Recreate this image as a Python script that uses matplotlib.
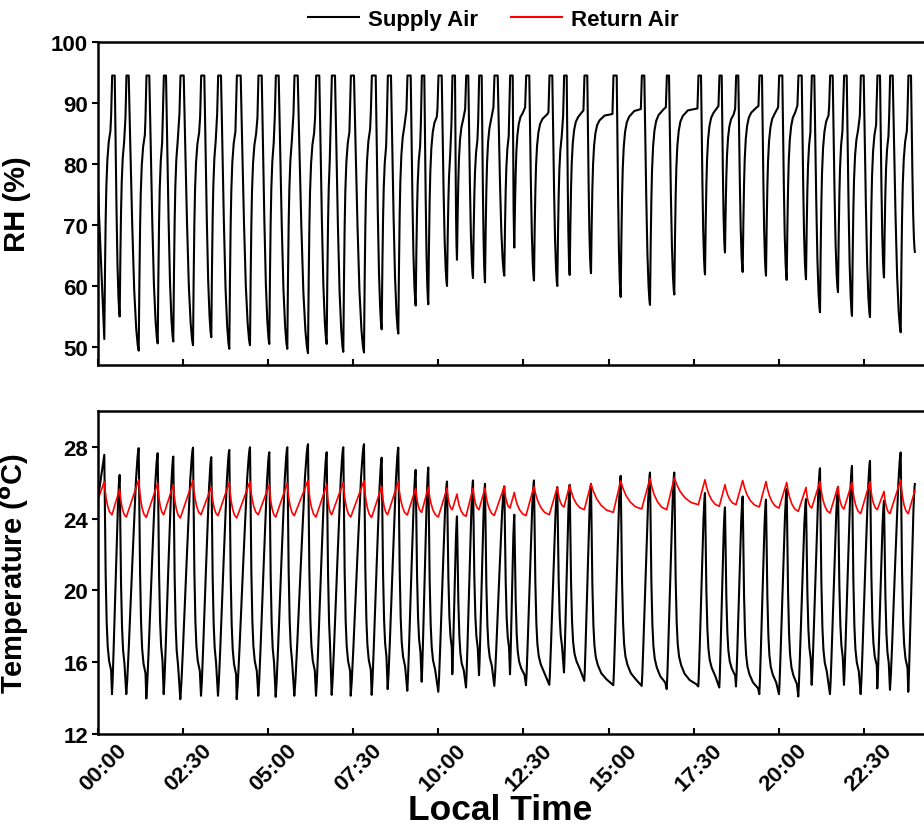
import matplotlib
matplotlib.use("Agg")
import matplotlib.pyplot as plt
import matplotlib.transforms as mtransforms
from matplotlib.lines import Line2D

# ---------------- data (hours of local time) ----------------
# time of each RH minimum / supply-air temperature maximum
t_trough = [0.188, 0.640, 1.199, 1.757, 2.215, 2.794, 3.331, 3.860, 4.468, 5.035,
            5.564, 6.172, 6.721, 7.209, 7.817, 8.337, 8.825, 9.336, 9.706, 10.256,
            10.549, 11.019, 11.372, 11.939, 12.233, 12.811, 13.496, 13.860, 14.486, 15.358,
            16.219, 16.933, 17.835, 18.422, 18.942, 19.627, 20.235, 20.802, 21.213, 21.742,
            22.153, 22.682, 23.094, 23.584]
# time of RH step up to saturation / supply-air temperature minimum
t_step = [0.414, 0.834, 1.422, 1.933, 2.421, 3.029, 3.528, 4.078, 4.712, 5.223,
          5.770, 6.407, 6.868, 7.427, 8.043, 8.513, 9.089, 9.512, 10.000, 10.411,
          10.814, 11.196, 11.645, 12.106, 12.576, 13.261, 13.692, 14.289, 15.141, 15.975,
          16.710, 17.638, 18.255, 18.745, 19.430, 20.008, 20.575, 20.969, 21.506, 21.917,
          22.408, 22.896, 23.269, 23.806]
# time the RH starts to fall from saturation
t_drop = [0.494, 0.905, 1.510, 2.001, 2.521, 3.126, 3.616, 4.195, 4.812, 5.311,
          5.870, 6.504, 6.965, 7.523, 8.161, 8.610, 9.189, 9.589, 10.100, 10.491,
          10.881, 11.275, 11.745, 12.186, 12.673, 13.349, 13.772, 14.377, 15.241, 16.052,
          16.778, 17.718, 18.326, 18.813, 19.509, 20.106, 20.676, 21.046, 21.586, 21.998,
          22.497, 22.976, 23.349, 23.887]
t_last = 24.0

rh_min = [51.3, 55.0, 49.4, 50.6, 50.9, 50.3, 51.6, 49.7, 50.3, 50.5,
          49.7, 49.0, 50.5, 49.2, 49.1, 52.9, 52.2, 56.8, 57.0, 60.0,
          64.3, 61.3, 60.6, 61.7, 66.3, 60.9, 60.0, 61.8, 62.1, 58.2,
          56.9, 58.6, 61.9, 65.5, 62.3, 61.7, 61.0, 61.1, 55.7, 59.0,
          55.1, 54.9, 61.4, 52.4]
rh_knee = [88.0, 87.5, 87.4, 88.0, 88.3, 87.8, 88.2, 88.0, 87.6, 88.0,
           88.2, 87.8, 88.0, 88.0, 88.5, 87.0, 88.8, 86.5, 89.0, 86.5,
           89.0, 87.0, 89.3, 87.7, 89.3, 88.5, 87.9, 88.8, 88.2, 89.0,
           89.3, 89.1, 89.5, 89.0, 89.5, 89.3, 89.6, 88.5, 89.3, 89.0,
           87.9, 88.8, 87.7, 87.9]
rh_top = 94.5
rh_first, rh_final = 76.0, 65.6

sup_max = [27.56, 26.44, 27.93, 27.65, 27.46, 27.96, 27.43, 27.83, 27.98, 27.70,
           27.98, 28.15, 27.70, 27.98, 28.15, 27.40, 27.96, 26.72, 26.85, 26.07,
           24.13, 26.13, 25.94, 25.80, 24.22, 26.13, 25.76, 25.89, 25.94, 26.39,
           26.57, 26.57, 25.43, 24.63, 25.24, 25.06, 25.65, 25.09, 26.81, 25.76,
           26.94, 27.22, 25.00, 27.69]
sup_min = [14.22, 14.22, 13.98, 14.22, 13.94, 14.13, 14.13, 13.94, 14.13, 14.07,
           14.13, 14.13, 14.18, 14.13, 14.18, 14.50, 14.41, 14.91, 14.35, 15.33,
           14.59, 15.28, 14.68, 15.33, 14.72, 14.74, 15.43, 14.96, 14.72, 14.68,
           14.50, 14.65, 14.59, 14.65, 14.22, 14.22, 14.09, 14.74, 14.22, 14.74,
           14.22, 14.54, 14.46, 14.35]
sup_first, sup_final = 25.1, 25.93

ret_max = [26.07, 25.65, 26.17, 25.98, 25.89, 26.13, 25.76, 26.02, 26.07, 25.89,
           25.98, 26.13, 25.89, 26.02, 26.11, 25.80, 26.07, 25.70, 25.76, 25.70,
           25.37, 25.70, 25.70, 25.80, 25.46, 25.80, 25.76, 25.87, 25.94, 26.11,
           26.24, 26.28, 26.17, 25.89, 26.13, 26.07, 26.02, 25.74, 26.07, 25.80,
           26.02, 26.07, 25.52, 26.17]
ret_min = [24.22, 24.09, 24.07, 24.22, 24.04, 24.22, 24.17, 24.04, 24.22, 24.09,
           24.17, 24.09, 24.22, 24.09, 24.07, 24.22, 24.20, 24.35, 24.09, 24.50,
           24.13, 24.50, 24.18, 24.59, 24.17, 24.22, 24.65, 24.50, 24.35, 24.54,
           24.50, 24.78, 24.69, 24.78, 24.65, 24.59, 24.41, 24.59, 24.31, 24.54,
           24.28, 24.50, 24.28, 24.28]
ret_first, ret_final = 25.06, 25.57

tick_hours = [0, 2.5, 5, 7.5, 10, 12.5, 15, 17.5, 20, 22.5]
tick_labels = ["00:00", "02:30", "05:00", "07:30", "10:00",
               "12:30", "15:00", "17:30", "20:00", "22:30"]

# shape of the recorded traces between the key points (fractions of the swing)
RH_RISE_DT = [0.02, 0.04, 0.06, 0.09, 0.13, 0.18, 0.25, 0.40]
RH_RISE_F = [0.30, 0.53, 0.68, 0.80, 0.88, 0.93, 0.96, 0.99]
RH_DROP_U = [0.15, 0.35, 0.55, 0.75, 0.90]
RH_DROP_F = [0.24, 0.54, 0.78, 0.92, 0.98]
SUP_FALL_DT = [0.02, 0.04, 0.07, 0.10, 0.14, 0.20, 0.30, 0.45, 0.65]
SUP_FALL_F = [0.25, 0.50, 0.70, 0.80, 0.86, 0.90, 0.94, 0.97, 0.99]
SUP_RISE_U = [0.08, 0.20, 0.50, 0.78, 0.90, 0.96]
SUP_RISE_F = [0.06, 0.19, 0.55, 0.87, 0.96, 0.99]
RET_FALL_U = [0.10, 0.25, 0.45, 0.70]
RET_FALL_F = [0.25, 0.52, 0.75, 0.92]

n = len(t_trough)


def build_rh():
    xs, ys = [0.0], [rh_first]
    for i in range(n):
        a, s, b = t_trough[i], t_step[i], t_drop[i]
        m, k = rh_min[i], rh_knee[i]
        xs.append(a); ys.append(m)
        for dt, f in zip(RH_RISE_DT, RH_RISE_F):
            if a + dt < s - 0.03:
                xs.append(a + dt); ys.append(m + f * (k - m))
        xs += [s - 0.025, s + 0.005, b]
        ys += [k, rh_top, rh_top]
        nt = t_trough[i + 1] if i + 1 < n else t_last
        nv = rh_min[i + 1] if i + 1 < n else rh_final
        for u, f in zip(RH_DROP_U, RH_DROP_F):
            xs.append(b + u * (nt - b)); ys.append(rh_top + f * (nv - rh_top))
    xs.append(t_last); ys.append(rh_final)
    return xs, ys


def build_sup():
    xs, ys = [0.0], [sup_first]
    for i in range(n):
        a, s = t_trough[i], t_step[i]
        p, q = sup_max[i], sup_min[i]
        xs.append(a); ys.append(p)
        for dt, f in zip(SUP_FALL_DT, SUP_FALL_F):
            if a + dt < s - 0.01:
                xs.append(a + dt); ys.append(p + f * (q - p))
        xs.append(s); ys.append(q)
        nt = t_trough[i + 1] if i + 1 < n else t_last
        nv = sup_max[i + 1] if i + 1 < n else sup_final
        for u, f in zip(SUP_RISE_U, SUP_RISE_F):
            xs.append(s + u * (nt - s)); ys.append(q + f * (nv - q))
    xs.append(t_last); ys.append(sup_final)
    return xs, ys


def build_ret():
    xs, ys = [0.0], [ret_first]
    for i in range(n):
        a, s = t_trough[i], t_step[i]
        p, q = ret_max[i], ret_min[i]
        xs.append(a); ys.append(p)
        for u, f in zip(RET_FALL_U, RET_FALL_F):
            xs.append(a + u * (s - a)); ys.append(p + f * (q - p))
        xs.append(s); ys.append(q)
    xs.append(t_last); ys.append(ret_final)
    return xs, ys


plt.rcParams["font.family"] = ["Liberation Sans", "DejaVu Sans"]
plt.rcParams["font.weight"] = "bold"

W, H = 924, 829
fig = plt.figure(figsize=(W / 100, H / 100), dpi=100)

x0 = 97.9
px_per_h = 34.04
right_px = 926
xmax = (right_px - x0) / px_per_h


def axes_box(top_px, bot_px):
    return [x0 / W, 1 - bot_px / H, (right_px - x0) / W, (bot_px - top_px) / H]


ax1 = fig.add_axes(axes_box(43, 366))
ax2 = fig.add_axes(axes_box(412, 735))

rx, ry = build_rh()
ax1.plot(rx, ry, color="black", lw=1.5, solid_joinstyle="round")
sx, sy = build_sup()
ax2.plot(sx, sy, color="black", lw=1.5, solid_joinstyle="round")
qx, qy = build_ret()
ax2.plot(qx, qy, color="red", lw=1.2, solid_joinstyle="round")

ax1.set_ylim(47.05, 100)
ax1.set_yticks([50, 60, 70, 80, 90, 100])
ax2.set_ylim(12, 30)
ax2.set_yticks([12, 16, 20, 24, 28])

for ax in (ax1, ax2):
    ax.set_xlim(0, xmax)
    ax.set_xticks(tick_hours)
    for sp in ax.spines.values():
        sp.set_linewidth(1.8)
    ax.tick_params(axis="x", direction="in", length=4, width=1.5)
    ax.tick_params(axis="y", direction="out", length=4, width=1.5, labelsize=16, pad=3)
    for lab in ax.get_yticklabels():
        lab.set_fontweight("bold")

ax1.set_xticklabels([])
ax2.set_xticklabels(tick_labels, rotation=45, ha="center", va="top",
                    fontsize=16, fontweight="bold")
ax2.tick_params(axis="x", pad=4)
shift = mtransforms.ScaledTranslation(5 / 100, 0, fig.dpi_scale_trans)
for lab in ax2.get_xticklabels():
    lab.set_transform(lab.get_transform() + shift)

ax1.set_ylabel("RH (%)", fontsize=21, fontweight="bold")
ax1.yaxis.set_label_coords(-0.081, 0.5)
ax2.set_ylabel("Temperature ($\\mathbf{^{o}}$C)", fontsize=21, fontweight="bold")
ax2.yaxis.set_label_coords(-0.081, 0.5)
ax2.set_xlabel("Local Time", fontsize=25.5, fontweight="bold")
ax2.xaxis.set_label_coords(0.486, -0.183)

handles = [Line2D([], [], color="black", lw=1.5), Line2D([], [], color="red", lw=1.5)]
fig.legend(handles, ["Supply Air", "Return Air"], loc="upper center",
           bbox_to_anchor=(0.534, 1.012), ncol=2, frameon=False,
           prop={"size": 16, "weight": "bold"}, handlelength=2.3,
           handletextpad=0.4, columnspacing=1.5)

fig.savefig("out.png", dpi=100)
